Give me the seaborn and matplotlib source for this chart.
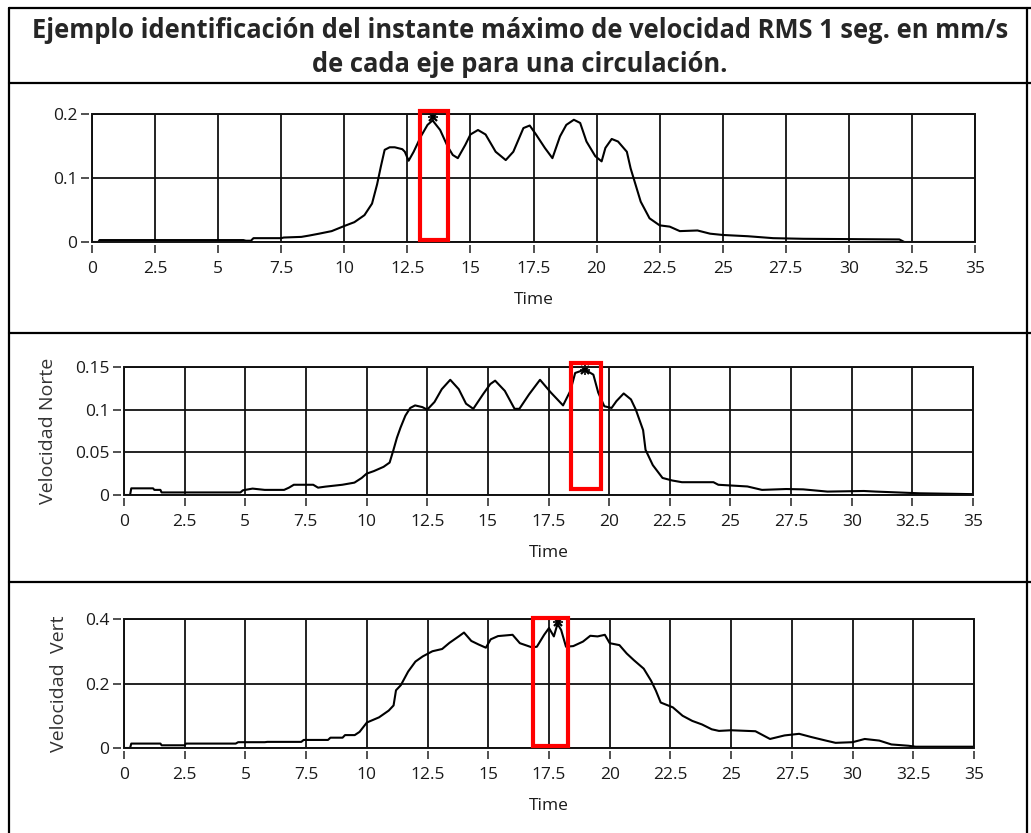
import seaborn as sns
import matplotlib.pyplot as plt
from matplotlib.lines import Line2D

# titulo de la tabla
titulo_1 = "Ejemplo identificación del instante máximo de velocidad RMS 1 seg. en mm/s"
titulo_2 = "de cada eje para una circulación."

x_ticks = [0, 2.5, 5, 7.5, 10, 12.5, 15, 17.5, 20, 22.5, 25, 27.5, 30, 32.5, 35]
x_tick_labels = ['0', '2.5', '5', '7.5', '10', '12.5', '15', '17.5', '20', '22.5',
                 '25', '27.5', '30', '32.5', '35']

# eje 1 (sin nombre)
t1 = [0, 0.25, 0.3, 6.0, 6.1, 6.3, 6.4, 7.5, 7.6, 8.3, 8.6, 9.0, 9.5, 10.0, 10.4, 10.8,
      11.1, 11.3, 11.45, 11.6, 11.8, 12.0, 12.3, 12.4, 12.55, 12.75, 13.05, 13.3, 13.5,
      13.8, 14.1, 14.3, 14.5, 14.8, 15.0, 15.3, 15.6, 16.0, 16.4, 16.7, 17.1, 17.35, 17.6,
      17.95, 18.25, 18.55, 18.8, 19.1, 19.35, 19.6, 19.95, 20.2, 20.35, 20.6, 20.85, 21.2,
      21.35, 21.55, 21.75, 22.1, 22.5, 22.9, 23.3, 24.0, 24.5, 25.0, 26.0, 27.0, 28.2,
      32.0, 32.2, 35.0]
v1 = [0, 0, 0.003, 0.003, 0.002, 0.002, 0.006, 0.006, 0.007, 0.008, 0.010, 0.013, 0.017,
      0.025, 0.031, 0.042, 0.060, 0.090, 0.118, 0.144, 0.148, 0.148, 0.145, 0.141, 0.127,
      0.141, 0.166, 0.183, 0.190, 0.175, 0.149, 0.136, 0.131, 0.152, 0.168, 0.175, 0.168,
      0.141, 0.128, 0.141, 0.178, 0.182, 0.168, 0.147, 0.131, 0.165, 0.183, 0.191, 0.186,
      0.157, 0.134, 0.126, 0.147, 0.161, 0.157, 0.141, 0.115, 0.089, 0.063, 0.037, 0.026,
      0.024, 0.017, 0.018, 0.013, 0.011, 0.009, 0.006, 0.005, 0.004, 0.0, 0.0]

# Velocidad Norte
t2 = [0, 0.25, 0.3, 1.2, 1.25, 1.5, 1.55, 4.8, 4.9, 5.3, 5.8, 6.6, 6.8, 7.0, 7.8, 8.0,
      8.3, 9.0, 9.5, 9.8, 10.0, 10.3, 10.7, 10.95, 11.1, 11.25, 11.4, 11.6, 11.8, 12.0,
      12.3, 12.5, 12.8, 13.1, 13.45, 13.8, 14.1, 14.4, 14.8, 15.1, 15.3, 15.7, 16.1, 16.3,
      16.7, 17.15, 17.6, 18.1, 18.4, 18.6, 19.0, 19.35, 19.55, 19.8, 20.1, 20.3, 20.6,
      20.9, 21.1, 21.4, 21.5, 21.8, 22.2, 22.6, 23.0, 24.3, 24.5, 25.7, 26.3, 27.3, 28.0,
      29.0, 30.5, 31.0, 32.8, 35.0]
v2 = [0, 0, 0.0078, 0.0078, 0.006, 0.006, 0.003, 0.003, 0.0055, 0.0075, 0.006, 0.006,
      0.0086, 0.012, 0.012, 0.0086, 0.0098, 0.012, 0.0145, 0.020, 0.025, 0.028, 0.033,
      0.038, 0.052, 0.067, 0.079, 0.093, 0.102, 0.105, 0.103, 0.100, 0.109, 0.124, 0.135,
      0.124, 0.107, 0.101, 0.118, 0.130, 0.134, 0.122, 0.101, 0.101, 0.118, 0.135, 0.120,
      0.105, 0.122, 0.143, 0.147, 0.141, 0.120, 0.104, 0.102, 0.110, 0.119, 0.112, 0.100,
      0.076, 0.053, 0.035, 0.020, 0.017, 0.015, 0.015, 0.012, 0.010, 0.006, 0.007, 0.0066,
      0.004, 0.0047, 0.004, 0.002, 0.001]

# Velocidad Vert
t3 = [0, 0.25, 0.3, 1.5, 1.55, 2.5, 2.55, 4.6, 4.7, 5.8, 5.9, 7.3, 7.4, 8.4, 8.5, 9.0,
      9.1, 9.5, 9.7, 10.0, 10.5, 10.9, 11.1, 11.2, 11.4, 11.7, 12.0, 12.3, 12.7, 13.1,
      13.4, 13.8, 14.0, 14.3, 14.6, 14.9, 15.1, 15.4, 16.0, 16.3, 16.8, 17.0, 17.3, 17.5,
      17.7, 17.85, 18.0, 18.2, 18.5, 18.9, 19.2, 19.5, 19.8, 20.0, 20.4, 20.7, 21.0, 21.4,
      21.7, 21.9, 22.1, 22.6, 23.0, 23.4, 23.8, 24.2, 24.5, 25.0, 26.0, 26.6, 27.2, 27.8,
      28.3, 28.9, 29.3, 30.0, 30.5, 31.1, 31.6, 32.3, 32.6, 35.0]
v3 = [0, 0, 0.0137, 0.0137, 0.0084, 0.0084, 0.0137, 0.0137, 0.018, 0.018, 0.019, 0.019,
      0.025, 0.025, 0.032, 0.032, 0.040, 0.040, 0.050, 0.079, 0.095, 0.116, 0.132, 0.179,
      0.195, 0.237, 0.268, 0.284, 0.300, 0.307, 0.326, 0.347, 0.358, 0.332, 0.321, 0.311,
      0.337, 0.347, 0.351, 0.325, 0.312, 0.314, 0.351, 0.372, 0.346, 0.385, 0.366, 0.314,
      0.316, 0.330, 0.348, 0.346, 0.351, 0.325, 0.319, 0.293, 0.272, 0.246, 0.209, 0.178,
      0.141, 0.126, 0.100, 0.084, 0.073, 0.058, 0.053, 0.055, 0.052, 0.028, 0.039, 0.044,
      0.034, 0.023, 0.016, 0.018, 0.028, 0.023, 0.011, 0.007, 0.004, 0.004]

y_ticks = [[0, 0.1, 0.2], [0, 0.05, 0.1, 0.15], [0, 0.2, 0.4]]
y_tick_labels = [['0', '0.1', '0.2'], ['0', '0.05', '0.1', '0.15'], ['0', '0.2', '0.4']]
y_lims = [(0, 0.2), (0, 0.15), (0, 0.4)]
y_labels = ['', 'Velocidad Norte', 'Velocidad  Vert']

# instante maximo marcado (cursor) y recuadro rojo: t_ini, t_fin, v_min, v_max
peak_t = [13.5, 19.0, 17.85]
peak_v = [0.195, 0.147, 0.39]
boxes = [(13.0, 14.1, 0.0035, 0.204), (18.44, 19.65, 0.007, 0.155), (16.84, 18.28, 0.007, 0.402)]

sns.set_theme(style='white')
plt.rcParams['font.family'] = ['Open Sans', 'DejaVu Sans']

W, H = 1031, 833
fig = plt.figure(figsize=(W / 100, H / 100), dpi=100)

# bordes de la tabla (px)
def hline(y):
    fig.add_artist(Line2D([9 / W, 1], [1 - y / H, 1 - y / H], color='black', lw=1.6))

def vline(x):
    fig.add_artist(Line2D([x / W, x / W], [0, 1 - 8 / H], color='black', lw=1.6))

for y in [8, 83, 333, 582]:
    hline(y)
vline(9)
vline(1027)

fig.text(520 / W, 1 - 31 / H, titulo_1, ha='center', va='center', fontsize=18.4, fontweight='bold')
fig.text(520 / W, 1 - 64 / H, titulo_2, ha='center', va='center', fontsize=18.4, fontweight='bold')

# posicion de cada grafico en px: izq, der, arriba, abajo
pos = [(92, 975, 114, 242), (124, 973, 367, 495), (124, 974, 619, 748)]
series = [(t1, v1), (t2, v2), (t3, v3)]
ylab_x = [None, -0.079, -0.066]

for i in range(3):
    l, r, top, bot = pos[i]
    ax = fig.add_axes([l / W, 1 - bot / H, (r - l) / W, (bot - top) / H])
    t, v = series[i]
    sns.lineplot(x=t, y=v, ax=ax, color='black', lw=1.5, estimator=None, sort=False)
    ax.plot([peak_t[i]], [peak_v[i]], marker='x', color='black', ms=6, mew=1.6, clip_on=False)
    ax.plot([peak_t[i]], [peak_v[i]], marker='+', color='black', ms=7, mew=1.2, clip_on=False)

    ax.set_xlim(0, 35)
    ax.set_ylim(*y_lims[i])
    ax.set_xticks(x_ticks)
    ax.set_xticklabels(x_tick_labels)
    ax.set_yticks(y_ticks[i])
    ax.set_yticklabels(y_tick_labels[i])
    ax.grid(True, color='#111111', lw=1.3)
    ax.set_axisbelow(True)

    for side in ['left', 'bottom']:
        ax.spines[side].set_position(('outward', 2.5))
    for side in ax.spines:
        ax.spines[side].set_visible(False)
    ax.add_patch(plt.Rectangle((0, 0), 1, 1, transform=ax.transAxes, fill=False,
                               ec='#111111', lw=1.4, clip_on=False, zorder=5))
    ax.tick_params(axis='both', direction='out', length=6, width=1.1, color='#222222',
                   labelsize=12.5, labelcolor='#1a1a1a', pad=2, left=True, bottom=True)
    ax.tick_params(axis='x', pad=5)

    ax.set_xlabel('Time', fontsize=12.5, color='#1a1a1a', labelpad=11)
    if y_labels[i]:
        ax.set_ylabel(y_labels[i], fontsize=14, color='#333333')
        ax.yaxis.set_label_coords(ylab_x[i], 0.5)
    else:
        ax.set_ylabel('')

    t0, t_end, v_lo, v_hi = boxes[i]
    ax.add_patch(plt.Rectangle((t0, v_lo), t_end - t0, v_hi - v_lo, fill=False,
                               ec='#ff0000', lw=3, clip_on=False, zorder=6))

fig.savefig('out.png', dpi=100)
